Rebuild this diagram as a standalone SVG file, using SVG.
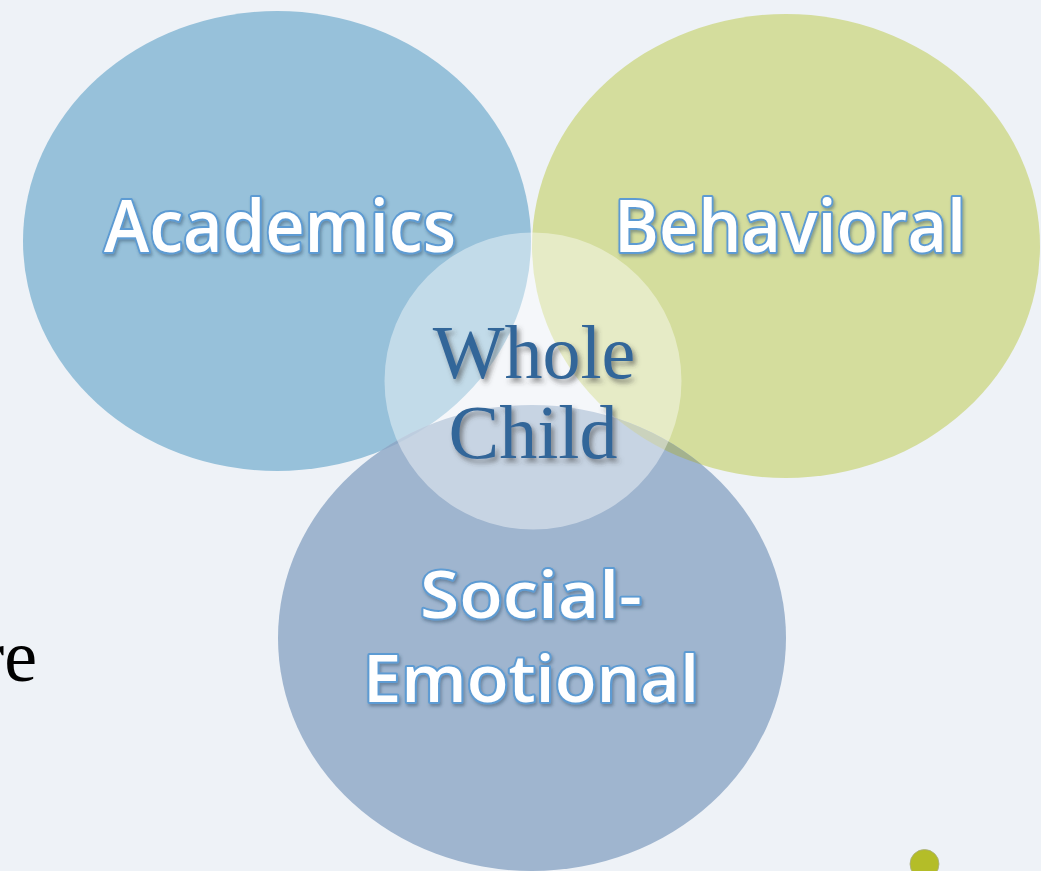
<svg xmlns="http://www.w3.org/2000/svg" width="1041" height="871" viewBox="0 0 1041 871">
<defs>
<style>
.lbl{font-family:"Open Sans","Lato",sans-serif;font-weight:600;font-size:72px;fill:#ffffff;stroke:#5d9bd3;stroke-width:4px;paint-order:stroke;stroke-linejoin:round;text-anchor:middle;filter:url(#sh)}
.sm{font-size:66px}
.ctr{font-family:"Liberation Serif","Times New Roman",serif;font-size:76px;fill:#336699;text-anchor:middle;filter:url(#sh2)}
</style>
<filter id="sh" x="-10%" y="-20%" width="120%" height="150%">
<feDropShadow dx="1.5" dy="2.5" stdDeviation="1.8" flood-color="#2b4a66" flood-opacity="0.45"/>
</filter>
<filter id="sh2" x="-10%" y="-20%" width="120%" height="150%">
<feDropShadow dx="3" dy="4" stdDeviation="2.5" flood-color="#3a3a3a" flood-opacity="0.55"/>
</filter>
<clipPath id="clipSoc"><ellipse cx="532" cy="638" rx="254" ry="233"/></clipPath>
</defs>
<rect width="1041" height="871" fill="#eef2f7"/>
<text x="37" y="681" font-family="Liberation Serif, serif" font-size="74" fill="#000000" text-anchor="end">re</text>
<circle cx="924.5" cy="864" r="14.5" fill="#b4bd28" stroke="#a8ad80" stroke-width="0.8"/>
<g id="academics">
<ellipse cx="277" cy="241" rx="254" ry="230" fill="#97c1da"/>
</g>
<g id="behavioral">
<ellipse cx="786" cy="246" rx="254" ry="232" fill="#d4dd9d"/>
</g>
<g id="social-emotional">
<ellipse cx="532" cy="638" rx="254" ry="233" fill="#9fb5cf"/>
<g clip-path="url(#clipSoc)">
<ellipse cx="786" cy="246" rx="254" ry="232" fill="#a4b28e"/>
<ellipse cx="277" cy="241" rx="254" ry="230" fill="#8eaac8"/>
</g>
</g>
<g id="whole-child">
<circle cx="533" cy="381" r="148.5" fill="#ffffff" fill-opacity="0.42"/>
</g>
<g id="labels">
<text class="lbl" x="280" y="252" textLength="352" lengthAdjust="spacingAndGlyphs">Academics</text>
<text class="lbl" x="790" y="252" textLength="352" lengthAdjust="spacingAndGlyphs">Behavioral</text>
<text class="lbl sm" x="531" y="618" textLength="222" lengthAdjust="spacingAndGlyphs">Social-</text>
<text class="lbl sm" x="531" y="702" textLength="336" lengthAdjust="spacingAndGlyphs">Emotional</text>
<text class="ctr" x="534" y="378">Whole</text>
<text class="ctr" x="533" y="458">Child</text>
</g>
<g id="connectors"/>
</svg>
